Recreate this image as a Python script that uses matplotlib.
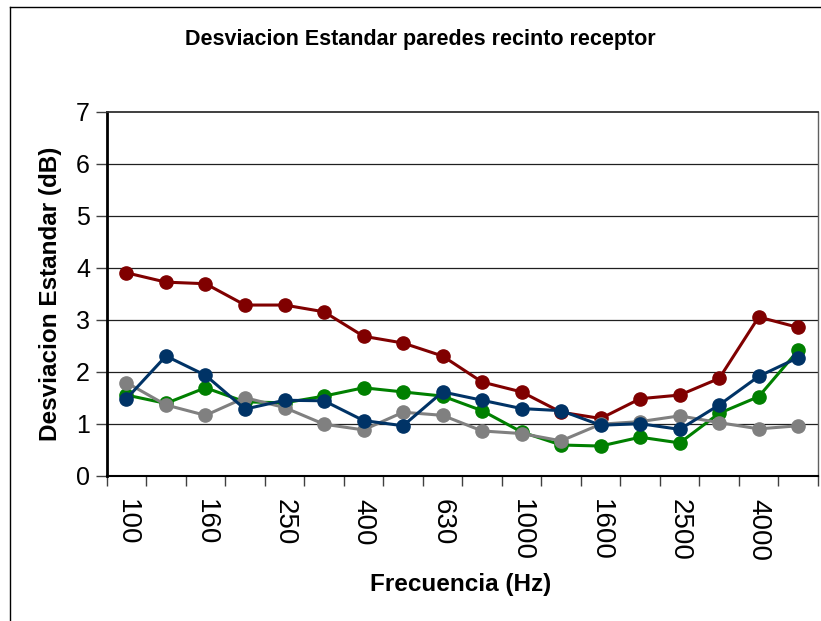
import matplotlib
matplotlib.use("Agg")
import matplotlib.pyplot as plt
from matplotlib.lines import Line2D
import numpy as np

freqs = ["100", "125", "160", "200", "250", "315", "400", "500", "630", "800",
         "1000", "1250", "1600", "2000", "2500", "3150", "4000", "5000"]
serie_roja = [3.90, 3.72, 3.69, 3.28, 3.28, 3.15, 2.68, 2.55, 2.30, 1.80,
              1.61, 1.22, 1.10, 1.48, 1.55, 1.87, 3.05, 2.85]
serie_verde = [1.55, 1.39, 1.69, 1.42, 1.40, 1.53, 1.69, 1.61, 1.53, 1.25,
               0.84, 0.59, 0.57, 0.74, 0.63, 1.20, 1.52, 2.41]
serie_gris = [1.79, 1.36, 1.16, 1.50, 1.31, 0.99, 0.88, 1.22, 1.16, 0.86,
              0.81, 0.67, 0.99, 1.04, 1.15, 1.02, 0.90, 0.96]
serie_azul = [1.48, 2.30, 1.93, 1.28, 1.45, 1.44, 1.06, 0.96, 1.61, 1.45,
              1.29, 1.25, 0.97, 1.00, 0.89, 1.36, 1.91, 2.27]

series = [(serie_roja, "#800000"), (serie_verde, "#008000"),
          (serie_gris, "#808080"), (serie_azul, "#003366")]

plt.rcParams['font.family'] = ['Liberation Sans', 'DejaVu Sans']

fig = plt.figure(figsize=(8.21, 6.21), dpi=100)
ax = fig.add_axes([106.7 / 821, 1 - 475.7 / 621, (818 - 106.7) / 821, (475.7 - 111.5) / 621])

x = np.arange(len(freqs))
for i, (vals, col) in enumerate(series):
    ax.plot(x, vals, color=col, lw=2.2, marker='o', markersize=9.5,
            markeredgecolor=col, zorder=3 + i)

ax.set_xlim(-0.5, len(freqs) - 0.5)
ax.set_ylim(0, 7)
ax.set_yticks(range(0, 8))
ax.tick_params(axis='y', labelsize=18, length=8, width=1, color='#404040', pad=4)
for yv in range(1, 7):
    ax.axhline(yv, color='#202020', lw=0.9, zorder=1)

# ticks at category boundaries, labels at every other category
ax.set_xticks(np.arange(-0.5, len(freqs), 1.0))
ax.set_xticklabels([])
ax.tick_params(axis='x', which='major', length=7, width=1, color='#404040')
ax.set_xticks(x[::2], minor=True)
ax.set_xticklabels(freqs[::2], minor=True, rotation=-90, fontsize=20)
ax.tick_params(axis='x', which='minor', length=0, pad=17)

ax.spines['left'].set_linewidth(2.0)
ax.spines['bottom'].set_linewidth(1.5)
ax.spines['top'].set_linewidth(1.3)
ax.spines['top'].set_color('#303030')
ax.spines['right'].set_linewidth(1.0)
ax.spines['right'].set_color('#606060')

ax.set_ylabel("Desviacion Estandar (dB)", fontsize=17.5, fontweight='bold', labelpad=10)
fig.text(461 / 821, 1 - 584 / 621, "Frecuencia (Hz)", fontsize=17.5, fontweight='bold',
         ha='center', va='center')
fig.text(420 / 821, 1 - 40 / 621, "Desviacion Estandar paredes recinto receptor",
         fontsize=15.5, fontweight='bold', ha='center', va='center')

# outer chart border (left and top visible)
fig.add_artist(Line2D([10 / 821, 10 / 821], [1 - 7 / 621, 0], transform=fig.transFigure,
                      color='black', lw=1))
fig.add_artist(Line2D([10 / 821, 1], [1 - 7 / 621, 1 - 7 / 621], transform=fig.transFigure,
                      color='black', lw=1))

fig.savefig("out.png", dpi=100)
